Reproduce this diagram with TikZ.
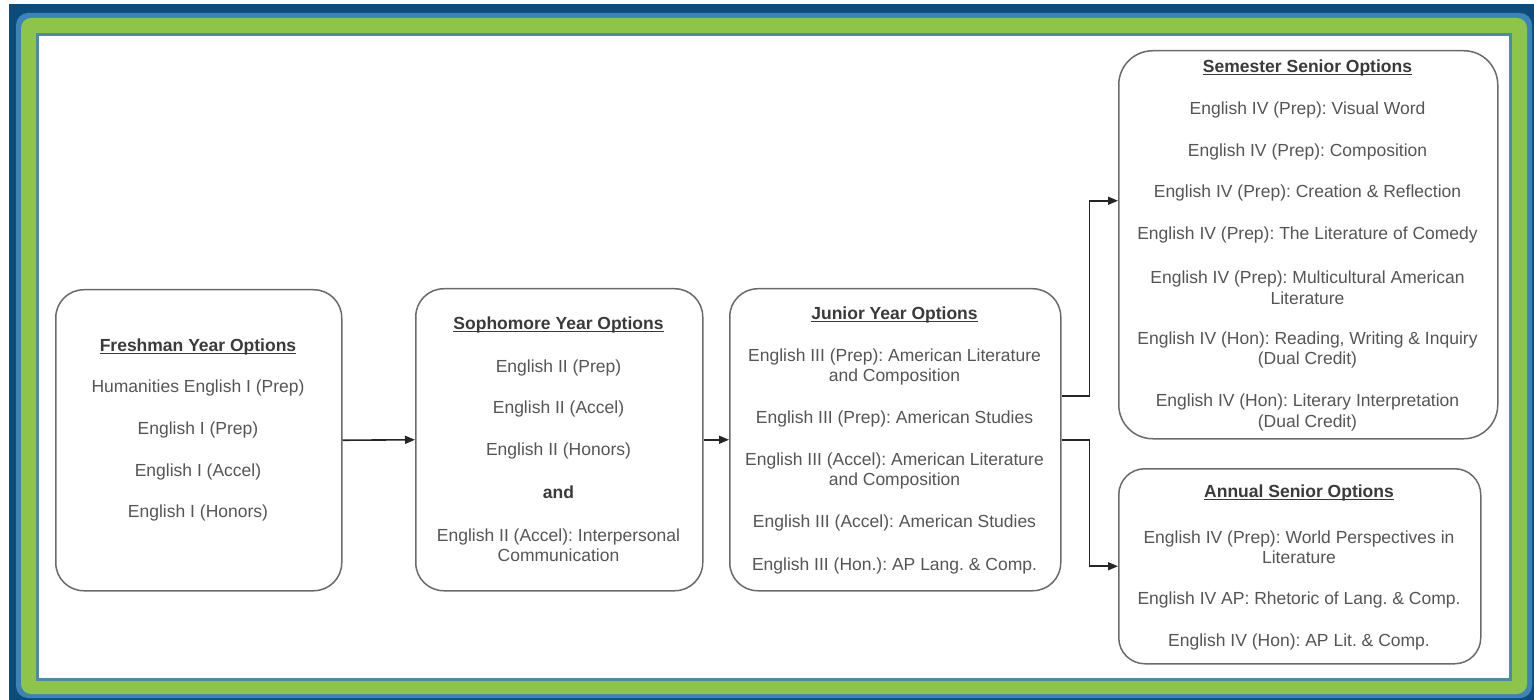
\documentclass[tikz,border=0pt]{standalone}
\usepackage{fontspec}
\setmainfont{Liberation Sans}
\usetikzlibrary{arrows.meta}
\definecolor{darkblue}{HTML}{0D4C7A}
\definecolor{glowblue}{HTML}{3C83BA}
\definecolor{grn}{HTML}{8DC44A}
\definecolor{thinb}{HTML}{4A8CA8}
\definecolor{txt}{HTML}{555555}
\definecolor{ttl}{HTML}{3A3A3A}
\definecolor{edge}{HTML}{6A6A6A}
\frenchspacing
\newcommand{\myul}[1]{\setbox0\hbox{#1}\rlap{\rule[-2.8pt]{\wd0}{1.3pt}}\box0}
\begin{document}
\begin{tikzpicture}[x=1pt,y=-1pt,
  box/.style={draw=edge,line width=1.5pt,rounded corners=28pt,fill=white,anchor=north west,inner sep=0pt},
  itm/.style={text=txt,font=\fontsize{17.5}{20.5}\selectfont\frenchspacing,align=center,inner sep=0pt},
  ttlt/.style={text=ttl,font=\bfseries\fontsize{17.5}{20.5}\selectfont,inner sep=0pt},
  conn/.style={draw=black!85,line width=1.6pt,-{Triangle[length=10pt,width=8pt]}}]
\useasboundingbox (0,0) rectangle (1534,700);
\clip (0,0) rectangle (1534,700);
% frame
\fill[white] (0,0) rectangle (1534,700);
\fill[darkblue] (9,4) rectangle (1545,710);
\fill[glowblue,rounded corners=12pt] (16,13) rectangle (1532,698);
\fill[grn,rounded corners=10pt] (21,18) rectangle (1527,694);
\fill[thinb] (36,33) rectangle (1512,681);
\fill[white] (39,36) rectangle (1509,678);

% boxes
\node[box,minimum width=286pt,minimum height=301pt] (fr) at (55,289) {};
\node[box,minimum width=287pt,minimum height=302pt] (so) at (415,288) {};
\node[box,minimum width=331pt,minimum height=302pt] (ju) at (729,288) {};
\node[box,minimum width=379pt,minimum height=388pt,rounded corners=34pt] (se) at (1118,50) {};
\node[box,minimum width=362pt,minimum height=195pt,rounded corners=26pt] (an) at (1118,468) {};

% freshman
\node[ttlt] (frt) at (198,347) {\myul{Freshman Year Options}};
\node[itm] (fr1) at (198,388) {Humanities English I (Prep)};
\node[itm] (fr2) at (198,430) {English I (Prep)};
\node[itm] (fr3) at (198,472) {English I (Accel)};
\node[itm] (fr4) at (198,513) {English I (Honors)};

% sophomore
\node[ttlt] (sot) at (558.5,325) {\myul{Sophomore Year Options}};
\node[itm] (so1) at (558.5,368) {English II (Prep)};
\node[itm] (so2) at (558.5,409) {English II (Accel)};
\node[itm] (so3) at (558.5,451) {English II (Honors)};
\node[ttlt] (so4) at (558.5,492) {and};
\node[itm] (so5) at (558.5,545) {English II (Accel): Interpersonal\\Communication};

% junior
\node[ttlt] (jut) at (894.5,315) {\myul{Junior Year Options}};
\node[itm] (ju1) at (894.5,367) {English III (Prep): American Literature\\and Composition};
\node[itm] (ju2) at (894.5,419) {English III (Prep): American Studies};
\node[itm] (ju3) at (894.5,471) {English III (Accel): American Literature\\and Composition};
\node[itm] (ju4) at (894.5,523) {English III (Accel): American Studies};
\node[itm] (ju5) at (894.5,566) {English III (Hon.): AP Lang. \& Comp.};

% semester senior
\node[ttlt] (set) at (1307.5,68) {\myul{Semester Senior Options}};
\node[itm] (se1) at (1307.5,110) {English IV (Prep): Visual Word};
\node[itm] (se2) at (1307.5,152) {English IV (Prep): Composition};
\node[itm] (se3) at (1307.5,193) {English IV (Prep): Creation \& Reflection};
\node[itm] (se4) at (1307.5,235) {English IV (Prep): The Literature of Comedy};
\node[itm] (se5) at (1307.5,287.5) {English IV (Prep): Multicultural American\\Literature};
\node[itm] (se6) at (1307.5,350) {English IV (Hon): Reading, Writing \& Inquiry\\(Dual Credit)};
\node[itm] (se7) at (1307.5,412.5) {English IV (Hon): Literary Interpretation\\(Dual Credit)};

% annual senior
\node[ttlt] (ant) at (1299,493) {\myul{Annual Senior Options}};
\node[itm] (an1) at (1299,547) {English IV (Prep): World Perspectives in\\Literature};
\node[itm] (an2) at (1299,600) {English IV AP: Rhetoric of Lang. \& Comp.};
\node[itm] (an3) at (1299,642) {English IV (Hon): AP Lit. \& Comp.};

% connectors
\draw[conn] (fr.east) -- (so.west);
\draw[conn] (so.east) -- (ju.west);
\draw[conn] ([yshift=44pt]ju.east) -- ++(28,0) |- ([yshift=44pt]se.west);
\draw[conn] (ju.east) -- ++(28,0) |- (an.west);
\end{tikzpicture}
\end{document}
